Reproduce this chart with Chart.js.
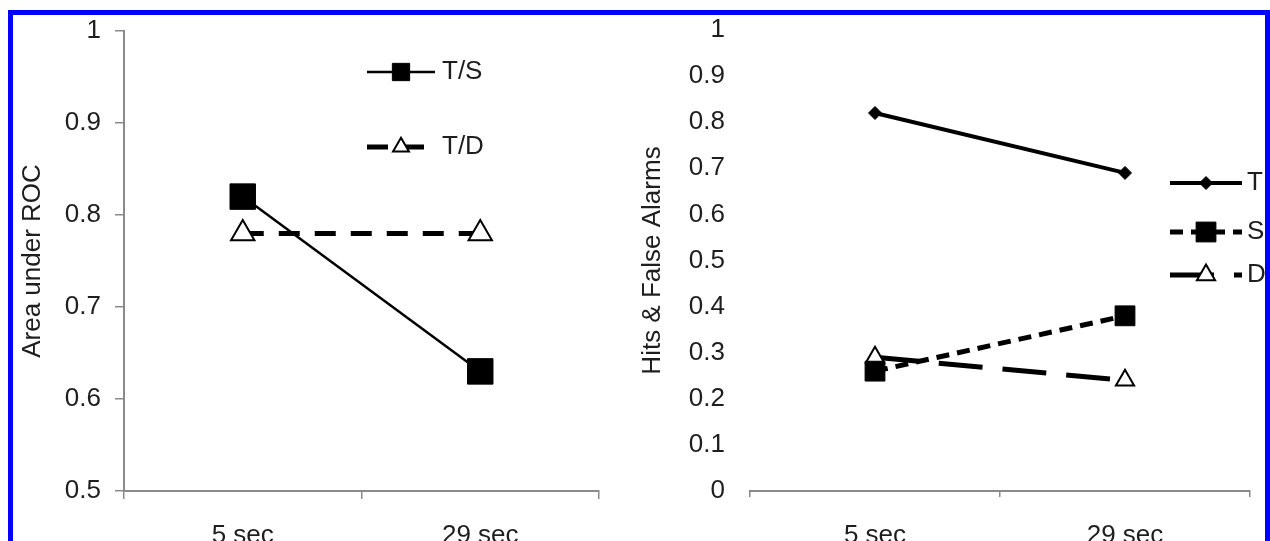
<!DOCTYPE html>
<html>
<head>
<meta charset="utf-8">
<script src="https://cdn.jsdelivr.net/npm/chart.js@4.4.1/dist/chart.umd.min.js"></script>
<style>
    html, body { margin: 0; padding: 0; background: #fff; overflow: hidden; }
    #frame {
        position: absolute; left: 8px; top: 10px; width: 1252px; height: 600px;
        border: 5px solid #0000ff; border-bottom: none; pointer-events: none; z-index: 2;
    }
    canvas { position: absolute; top: 0; }
    #rocCanvas { left: 0; }
    #hitsCanvas { left: 630px; }
</style>
</head>
<body>
<div id="frame"></div>
<canvas id="rocCanvas" width="630" height="541"></canvas>
<canvas id="hitsCanvas" width="640" height="541"></canvas>
<script>
// values
const categories = ["5 sec", "29 sec"];
const aucTS = [0.82, 0.63];
const aucTD = [0.78, 0.78];
const hitsT = [0.82, 0.69];
const alarmsS = [0.26, 0.38];
const alarmsD = [0.29, 0.24];

const axisGrey = "#8a8a8a";
const textColor = "#1e1e1e";
const fontFamily = "'Liberation Sans', Arial, sans-serif";

// excel style legend inside the plot: line sample with the marker in the middle
const sampleLegend = {
    id: "sampleLegend",
    afterDatasetsDraw(chart, args, opts) {
        const ctx = chart.ctx;
        chart.data.datasets.forEach((ds, i) => {
            const y = opts.rows[i];
            const x0 = opts.x, x1 = opts.x + opts.len;
            ctx.save();
            ctx.strokeStyle = ds.borderColor;
            ctx.lineWidth = ds.borderWidth;
            ctx.setLineDash(ds.borderDash || []);
            ctx.beginPath();
            ctx.moveTo(x0, y);
            ctx.lineTo(x1, y);
            ctx.stroke();
            ctx.setLineDash([]);
            ctx.fillStyle = ds.pointBackgroundColor;
            ctx.strokeStyle = ds.pointBorderColor;
            ctx.lineWidth = ds.pointBorderWidth;
            Chart.helpers.drawPoint(ctx, {
                pointStyle: ds.pointStyle,
                radius: ds.pointRadius * opts.scale,
                borderWidth: ds.pointBorderWidth,
                rotation: 0,
            }, (x0 + x1) / 2, y);
            ctx.fillStyle = textColor;
            ctx.font = opts.font;
            ctx.textBaseline = "middle";
            ctx.textAlign = "left";
            ctx.fillText(ds.label, opts.textX, y);
            ctx.restore();
        });
    },
};

const tickFont = { family: fontFamily, size: 26 };
const fmt = (v) => String(Number(v.toFixed(1)));

function xScale(tickLen, pad) {
    return {
        offset: true,
        grid: { display: true, offset: true, drawOnChartArea: false, tickLength: tickLen, color: axisGrey, lineWidth: 1.5 },
        border: { display: true, color: axisGrey, width: 2 },
        ticks: { color: textColor, padding: pad, font: tickFont },
        afterFit: (scale) => { scale.height = 50; },
    };
}

new Chart(document.getElementById("rocCanvas"), {
    type: "line",
    data: {
        labels: categories,
        datasets: [
            {
                label: "T/S",
                data: aucTS,
                borderColor: "#000",
                borderWidth: 2.5,
                pointStyle: "rect",
                pointRadius: 18,
                pointBackgroundColor: "#000",
                pointBorderColor: "#000",
                pointBorderWidth: 1,
            },
            {
                label: "T/D",
                data: aucTD,
                borderColor: "#000",
                borderWidth: 5,
                borderDash: [21, 15],
                pointStyle: "triangle",
                pointRadius: 13.5,
                pointBackgroundColor: "#fff",
                pointBorderColor: "#000",
                pointBorderWidth: 2,
            },
        ],
    },
    options: {
        responsive: false,
        animation: false,
        layout: { padding: { top: 31, right: 31, bottom: 0, left: 0 } },
        plugins: {
            legend: { display: false },
            tooltip: { enabled: false },
            sampleLegend: { x: 367, len: 68, textX: 442, rows: [72, 147], scale: 0.68, font: "26px " + fontFamily },
        },
        scales: {
            x: xScale(8, 21),
            y: {
                min: 0.5,
                max: 1,
                ticks: { stepSize: 0.1, color: textColor, padding: 14, font: tickFont, callback: fmt },
                grid: { display: true, drawOnChartArea: false, tickLength: 9, color: axisGrey, lineWidth: 1.5 },
                border: { display: true, color: axisGrey, width: 2 },
                title: { display: true, text: "Area under ROC", color: textColor, padding: { top: 17 }, font: tickFont },
                afterFit: (scale) => { scale.width = 124; },
            },
        },
    },
    plugins: [sampleLegend],
});

new Chart(document.getElementById("hitsCanvas"), {
    type: "line",
    data: {
        labels: categories,
        datasets: [
            {
                label: "T",
                data: hitsT,
                borderColor: "#000",
                borderWidth: 4,
                pointStyle: "rectRot",
                pointRadius: 6.5,
                pointBackgroundColor: "#000",
                pointBorderColor: "#000",
                pointBorderWidth: 1,
            },
            {
                label: "S",
                data: alarmsS,
                borderColor: "#000",
                borderWidth: 5,
                borderDash: [13, 8],
                pointStyle: "rect",
                pointRadius: 14,
                pointBackgroundColor: "#000",
                pointBorderColor: "#000",
                pointBorderWidth: 1,
            },
            {
                label: "D",
                data: alarmsD,
                borderColor: "#000",
                borderWidth: 5,
                borderDash: [44, 20],
                pointStyle: "triangle",
                pointRadius: 10.5,
                pointBackgroundColor: "#fff",
                pointBorderColor: "#000",
                pointBorderWidth: 2,
            },
        ],
    },
    options: {
        responsive: false,
        animation: false,
        layout: { padding: { top: 30, right: 20, bottom: 0, left: 0 } },
        plugins: {
            legend: { display: false },
            tooltip: { enabled: false },
            sampleLegend: { x: 540, len: 72, textX: 617, rows: [183, 232, 275], scale: 1, font: "26px " + fontFamily },
        },
        scales: {
            x: xScale(6, 23),
            y: {
                min: 0,
                max: 1,
                ticks: { stepSize: 0.1, color: textColor, padding: 4, font: tickFont, callback: fmt },
                // invisible tick marks only keep the labels off the plot
                grid: { display: true, drawOnChartArea: false, tickLength: 21, color: "rgba(0,0,0,0)" },
                border: { display: false },
                title: { display: true, text: "Hits & False Alarms", color: textColor, padding: { top: 7 }, font: tickFont },
                afterFit: (scale) => { scale.width = 120; },
            },
        },
    },
    plugins: [sampleLegend],
});
</script>
</body>
</html>
